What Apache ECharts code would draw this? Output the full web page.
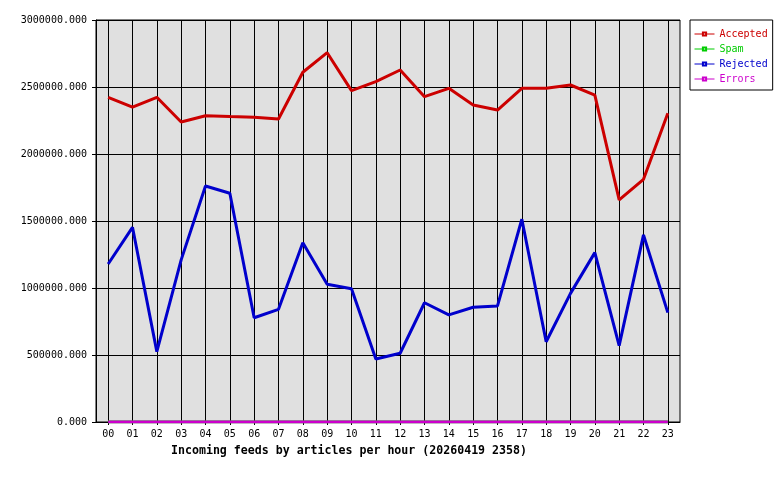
<!DOCTYPE html>
<html>
<head>
<meta charset="utf-8">
<script src="https://cdn.jsdelivr.net/npm/echarts@6/dist/echarts.min.js"></script>
<style>
  html, body { margin: 0; padding: 0; background: #fff; }
  #chart { width: 780px; height: 480px; }
</style>
</head>
<body>
<div id="chart"></div>
<script>
// hours on the x axis
const hours = ["00","01","02","03","04","05","06","07","08","09","10","11",
               "12","13","14","15","16","17","18","19","20","21","22","23"];

// values per hour
const accepted = [2423000, 2349000, 2423000, 2239000, 2286000, 2279000, 2274000, 2261000,
                  2610000, 2756000, 2473000, 2540000, 2627000, 2428000, 2490000, 2366000,
                  2328000, 2490000, 2490000, 2515000, 2440000, 1657000, 1811000, 2304000];
const spam = [0,0,0,0,0,0,0,0,0,0,0,0,0,0,0,0,0,0,0,0,0,0,0,0];
const rejected = [1179000, 1453000, 525000, 1210000, 1761000, 1707000, 778000, 841000,
                  1338000, 1028000, 995000, 470000, 513000, 890000, 799000, 856000,
                  866000, 1513000, 599000, 960000, 1264000, 570000, 1396000, 816000];
const errors = [0,0,0,0,0,0,0,0,0,0,0,0,0,0,0,0,0,0,0,0,0,0,0,0];

const names = ["Accepted", "Spam", "Rejected", "Errors"];
const colors = ["#cc0000", "#00cc00", "#0000cc", "#cc00cc"];
const mono = "DejaVu Sans Mono";

let chart = echarts.init(document.getElementById("chart"));

let mkSeries = (name, data, i) => ({
  name: name,
  type: "line",
  data: data,
  symbol: "emptyRect",
  showSymbol: false,
  animation: false,
  lineStyle: { width: 3, color: colors[i] },
  itemStyle: { color: colors[i] },
  z: 3 + i,
});

let option = {
  animation: false,
  backgroundColor: "#fff",
  title: {
    text: "Incoming feeds by articles per hour (20260419 2358)",
    left: 171,
    top: 445,
    padding: 0,
    textStyle: { fontFamily: mono, fontSize: 11.6, fontWeight: "bold", color: "#000" },
  },
  legend: {
    orient: "vertical",
    left: 690,
    top: 20,
    padding: [9, 5, 6, 4],
    itemGap: 5,
    itemWidth: 20,
    itemHeight: 4,
    borderColor: "#000",
    borderWidth: 1,
    backgroundColor: "#fff",
    lineStyle: { width: 1 },
    textStyle: { fontFamily: mono, fontSize: 10 },
    data: names.map((n, i) => ({ name: n, textStyle: { color: colors[i] } })),
  },
  grid: {
    left: 96,
    right: 100,
    top: 20,
    bottom: 58,
    show: true,
    backgroundColor: "#e0e0e0",
    borderColor: "#000",
    borderWidth: 1,
  },
  xAxis: {
    type: "category",
    data: hours,
    boundaryGap: true,
    axisLine: { lineStyle: { color: "#000", width: 1 } },
    axisTick: { show: true, alignWithLabel: true, length: 3, lineStyle: { color: "#000" } },
    axisLabel: { fontFamily: mono, fontSize: 10, color: "#000", margin: 7 },
    splitLine: { show: true, alignWithLabel: true, lineStyle: { color: "#000", width: 1 } },
  },
  yAxis: {
    type: "value",
    min: 0,
    max: 3000000,
    interval: 500000,
    axisLine: { show: true, lineStyle: { color: "#000", width: 1 } },
    axisTick: { show: true, length: 4, lineStyle: { color: "#000" } },
    axisLabel: {
      fontFamily: mono, fontSize: 10, color: "#000", margin: 9,
      formatter: (v) => v.toFixed(3),
    },
    splitLine: { show: true, lineStyle: { color: "#000", width: 1 } },
  },
  series: [
    mkSeries("Accepted", accepted, 0),
    mkSeries("Spam", spam, 1),
    mkSeries("Rejected", rejected, 2),
    mkSeries("Errors", errors, 3),
  ],
};

chart.setOption(option);
</script>
</body>
</html>
